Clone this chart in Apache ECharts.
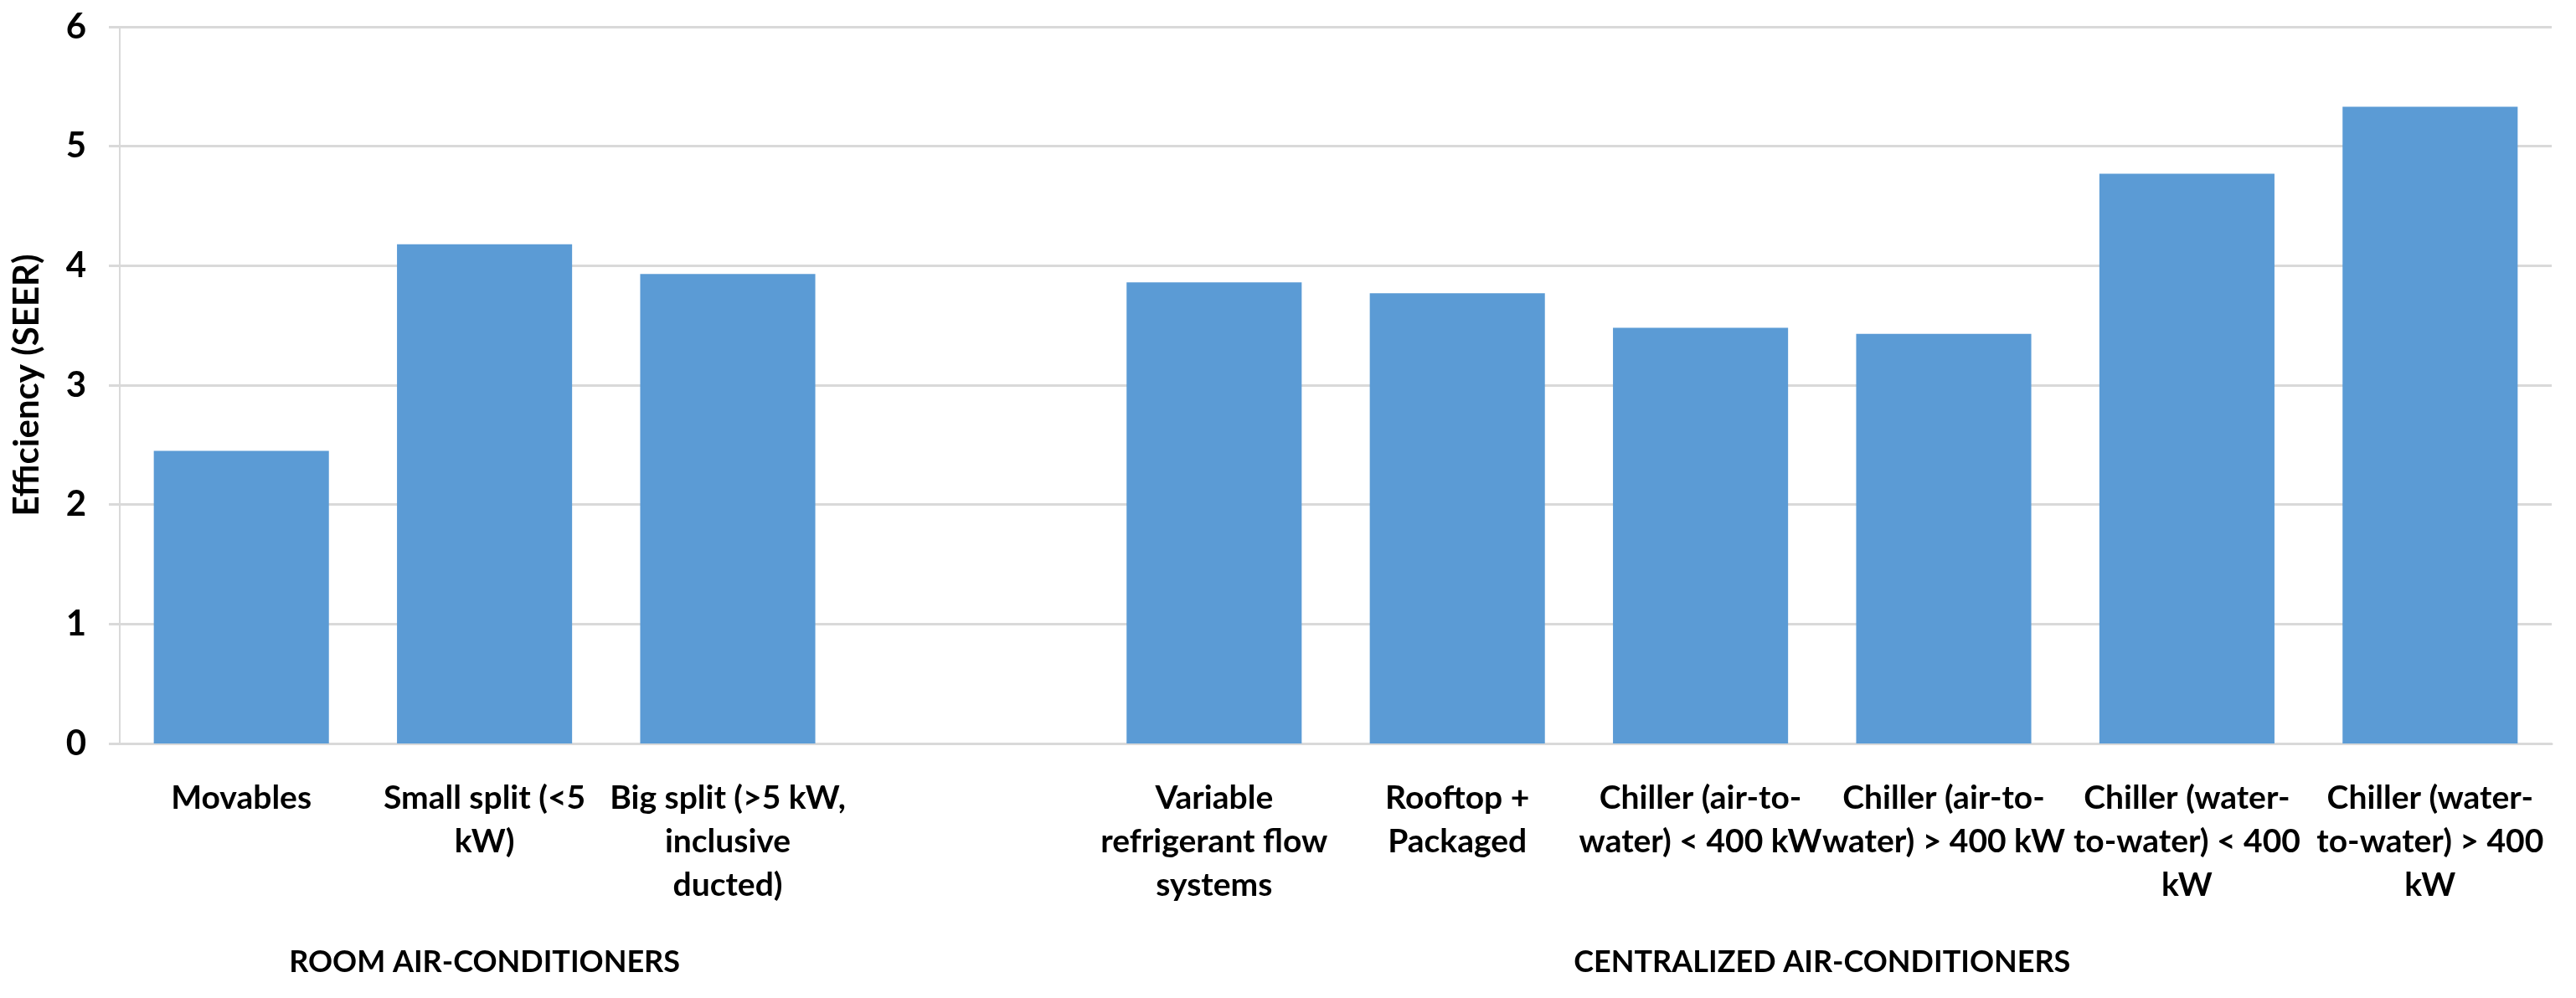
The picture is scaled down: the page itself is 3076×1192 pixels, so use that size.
<!DOCTYPE html>
<html>
<head>
<meta charset="utf-8">
<script src="https://cdn.jsdelivr.net/npm/echarts@6/dist/echarts.min.js"></script>
<style>
html,body{margin:0;padding:0;background:#fff;}
#chart{width:3076px;height:1192px;}
</style>
</head>
<body>
<div id="chart"></div>
<script>
const categories = [
  'Movables',
  'Small split (<5\nkW)',
  'Big split (>5 kW,\ninclusive\nducted)',
  '',
  'Variable\nrefrigerant flow\nsystems',
  'Rooftop +\nPackaged',
  'Chiller (air-to-\nwater) < 400 kW',
  'Chiller (air-to-\nwater) > 400 kW',
  'Chiller (water-\nto-water) < 400\nkW',
  'Chiller (water-\nto-water) > 400\nkW'
];
const seerValues = [2.45, 4.18, 3.93, null, 3.86, 3.77, 3.48, 3.43, 4.77, 5.33];
const yTicks = { min: 0, max: 6, interval: 1 };
const yAxisTitle = 'Efficiency (SEER)';
const groups = [
  { name: 'ROOM AIR-CONDITIONERS', from: 0, to: 2 },
  { name: 'CENTRALIZED AIR-CONDITIONERS', from: 4, to: 9 }
];

const FONT = 'Lato, "Open Sans", sans-serif';
const chart = echarts.init(document.getElementById('chart'), null, { renderer: 'canvas' });

const option = {
  animation: false,
  backgroundColor: '#ffffff',
  grid: { left: 143, right: 29, top: 32, bottom: 304, containLabel: false },
  xAxis: {
    type: 'category',
    data: categories,
    axisLine: { show: true, lineStyle: { color: '#d9d9d9', width: 3 } },
    axisTick: { show: false },
    axisLabel: {
      interval: 0,
      margin: 39,
      color: '#000',
      fontFamily: FONT,
      fontWeight: 'bold',
      fontSize: 39,
      lineHeight: 52,
      align: 'center'
    },
    splitLine: { show: false }
  },
  yAxis: {
    type: 'value',
    min: yTicks.min,
    max: yTicks.max,
    interval: yTicks.interval,
    name: yAxisTitle,
    nameLocation: 'middle',
    nameRotate: 90,
    nameGap: 90,
    nameTextStyle: { color: '#000', fontFamily: FONT, fontWeight: 'bold', fontSize: 42 },
    axisLine: { show: true, lineStyle: { color: '#d9d9d9', width: 2 } },
    axisTick: { show: true, length: 13, lineStyle: { color: '#d9d9d9', width: 3 } },
    axisLabel: { margin: 40, color: '#000', fontFamily: FONT, fontWeight: 'bold', fontSize: 42 },
    splitLine: { show: true, lineStyle: { color: '#d9d9d9', width: 3 } }
  },
  series: [{
    type: 'bar',
    data: seerValues,
    barCategoryGap: '28%',
    itemStyle: { color: '#5b9bd5' }
  }]
};
chart.setOption(option);

function placeGroups() {
  const gridBottom = 1192 - 304;
  const graphics = groups.map(g => {
    const x1 = chart.convertToPixel({ xAxisIndex: 0 }, g.from);
    const x2 = chart.convertToPixel({ xAxisIndex: 0 }, g.to);
    return {
      type: 'text',
      x: (x1 + x2) / 2,
      y: gridBottom + 261,
      style: {
        text: g.name,
        fill: '#000',
        font: 'bold 36px ' + FONT,
        align: 'center',
        verticalAlign: 'middle'
      }
    };
  });
  chart.setOption({ graphic: graphics });
}
placeGroups();
</script>
</body>
</html>
